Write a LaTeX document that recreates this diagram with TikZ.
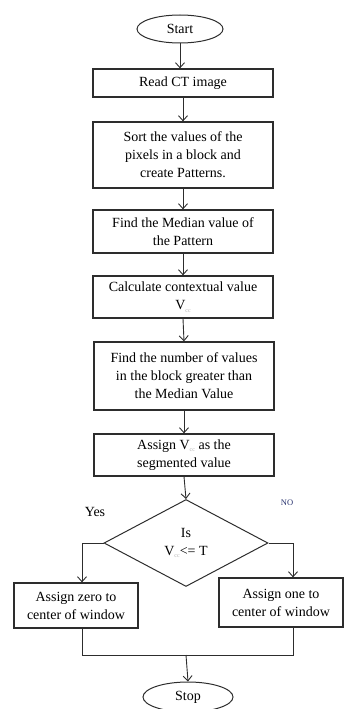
\documentclass[tikz,border=0pt]{standalone}
\usepackage{fontspec}
\setmainfont{Liberation Serif}
\usetikzlibrary{shapes.geometric,arrows.meta}
\definecolor{lin}{RGB}{45,45,45}
\definecolor{navy}{RGB}{40,50,110}
\newcommand{\vcc}{V\raisebox{-2.5pt}{\fontsize{6}{6}\selectfont\color{gray!60}cc}}
\tikzset{
  every node/.style={font=\fontsize{14}{18}\selectfont, text=black},
  procbox/.style={draw=lin, line width=1.3pt, rectangle, align=center, inner sep=0pt},
  term/.style={draw=lin, line width=1pt, ellipse, inner sep=0pt},
  decide/.style={draw=lin, line width=1pt, diamond, inner sep=0pt, aspect=1.9},
  arr/.style={draw=lin, line width=0.9pt, -{Straight Barb[length=5pt,width=9pt]}},
  ln/.style={draw=lin, line width=0.9pt}
}
\begin{document}
\begin{tikzpicture}[x=1pt,y=-1pt]
\useasboundingbox (0,0) rectangle (346,709);
\node[term, minimum width=86pt, minimum height=28pt] (start) at (180,29) {Start};
\node[procbox, minimum width=180pt, minimum height=28pt] (read) at (183,83) {Read CT image};
\node[procbox, minimum width=180pt, minimum height=66pt] (sort) at (183,155) {Sort the values of the\\pixels in a block and\\create Patterns.};
\node[procbox, minimum width=180pt, minimum height=43pt] (median) at (183,231.5) {Find the Median value of\\the Pattern};
\node[procbox, minimum width=180pt, minimum height=42pt] (calc) at (183,297) {Calculate contextual value\\\vcc};
\node[procbox, minimum width=180pt, minimum height=68pt] (count) at (184,376) {Find the number of values\\in the block greater than\\the Median Value};
\node[procbox, minimum width=180pt, minimum height=42pt] (assign) at (184,455) {Assign \vcc{} as the\\segmented value};
\node[decide, minimum width=164pt, minimum height=87pt] (dec) at (186,543) {};
\node[align=center] (dectext) at (186,543) {Is\\\vcc{}<= T};
\node[procbox, minimum width=124pt, minimum height=45pt] (zero) at (76,605.5) {Assign zero to\\center of window};
\node[procbox, minimum width=124pt, minimum height=49pt] (one) at (281,602.5) {Assign one to\\center of window};
\node[term, minimum width=90pt, minimum height=30pt] (stop) at (188,697) {Stop};
\node (yes) at (95,512) {Yes};
\node[font=\fontsize{8.5}{9}\selectfont, text=navy] (no) at (287,503) {NO};
\coordinate (yl) at (82,543);
\coordinate (yr) at (293,543);
\coordinate (jl) at (82,655);
\coordinate (jr) at (293,655);
\coordinate (jm) at (186,655);
\draw[arr] (start.south) -- (start.south |- read.north);
\draw[arr] (read.south) -- (sort.north);
\draw[arr] (sort.south) -- (median.north);
\draw[arr] (median.south) -- (calc.north);
\draw[arr] (calc.south) -- (count.north);
\draw[arr] (count.south) -- (assign.north);
\draw[arr] (assign.south) -- (dec.north);
\draw[ln] (dec.west) -- (yl);
\draw[arr] (yl) -- (yl |- zero.north);
\draw[ln] (dec.east) -- (yr);
\draw[arr] (yr) -- (yr |- one.north);
\draw[ln] (jl |- zero.south) -- (jl) -- (jr) -- (jr |- one.south);
\draw[arr] (jm) -- (stop.north);
\end{tikzpicture}
\end{document}
